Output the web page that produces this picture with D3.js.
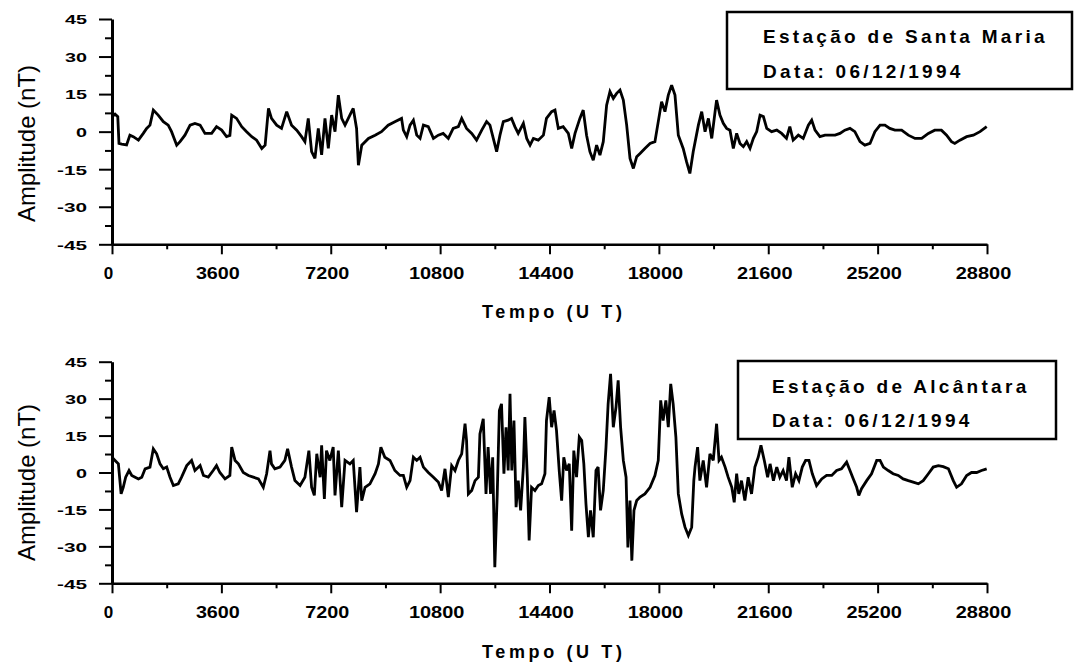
<!DOCTYPE html>
<html>
<head>
<meta charset="utf-8">
<style>
  body { margin: 0; background: #fff; }
  svg text { font-family: "Liberation Sans", Arial, sans-serif; fill: #000; }
  .tick line, .domain { stroke: #000; }
  .trace { fill: none; stroke: #000; stroke-width: 2.8; stroke-linejoin: miter; stroke-miterlimit: 3; }
</style>
<script src="https://cdn.jsdelivr.net/npm/d3@7"></script>
</head>
<body>
<svg id="chart" width="1075" height="663"></svg>
<script>
// time ticks (s, UT) and amplitude ticks (nT)
var xTicks = [0, 3600, 7200, 10800, 14400, 18000, 21600, 25200, 28800];
var xMinor = [1800, 5400, 9000, 12600, 16200, 19800, 23400, 27000];
var yTicks = [-45, -30, -15, 0, 15, 30, 45];
var yMinor = [-37.5, -22.5, -7.5, 7.5, 22.5, 37.5];

var titles = ["Estação de Santa Maria", "Estação de Alcântara"];
var dateLabel = "Data: 06/12/1994";

// [time (s), amplitude (nT)]
var santaMaria = [[0,6],[100,7],[190,6],[230,-4.7],[320,-5],[480,-5.3],[590,-1.4],[700,-2],[870,-3.4],[1030,-0.7],[1140,1.3],[1250,2.6],[1360,8.6],[1520,6.6],[1690,4],[1850,2.6],[1960,0],[2130,-5.4],[2240,-4],[2400,-1.4],[2570,2.6],[2730,3.3],[2900,2.6],[3060,-0.7],[3280,-0.7],[3440,2],[3610,0.6],[3770,-2],[3880,-1.5],[3940,6.6],[4100,5.3],[4270,2],[4430,0],[4600,-2],[4760,-3.4],[4930,-6.7],[5040,-5.4],[5150,9.3],[5250,5.3],[5420,2.6],[5580,1.3],[5750,8],[5910,2.6],[6080,0.6],[6240,-2],[6350,-4],[6460,5.3],[6570,-8],[6680,-10.7],[6790,1.3],[6900,-9.3],[7010,5.3],[7120,-6.7],[7230,6.6],[7340,0],[7450,14.6],[7560,5.3],[7670,2.6],[7830,6.6],[7940,9.3],[8050,1.3],[8110,-13.4],[8220,-5.4],[8440,-2.7],[8660,-1.4],[8870,0],[9090,2.6],[9310,4],[9530,5.3],[9590,0.6],[9700,-2],[9810,2.6],[9920,4.6],[10030,-1.4],[10140,-2.7],[10250,2.6],[10410,2],[10580,-2.7],[10740,-1.4],[10900,-0.7],[11070,-2.7],[11230,1.3],[11400,2],[11510,5.3],[11670,1.3],[11840,-0.7],[12000,-3.4],[12170,0.6],[12330,4],[12440,2.6],[12550,-2.7],[12660,-8],[12770,-1.4],[12880,4],[13040,4.6],[13150,5.3],[13260,2],[13370,-0.7],[13540,3.3],[13650,-2.7],[13760,-5.4],[13870,-2.7],[14030,-3.4],[14200,-1.4],[14300,5.3],[14470,8],[14580,8.6],[14690,1.3],[14850,2],[15020,-0.7],[15130,-6.7],[15240,-0.7],[15400,5.3],[15510,8.6],[15620,-1.4],[15730,-8],[15840,-11.4],[15950,-5.4],[16060,-9.4],[16170,-4],[16280,10.6],[16390,16],[16500,13.3],[16610,15.3],[16720,16.6],[16830,12.6],[16940,2.6],[17050,-10.7],[17160,-14.7],[17270,-10],[17380,-8.7],[17540,-6.7],[17710,-4.7],[17870,-4],[17980,4],[18090,12],[18200,8],[18310,14.6],[18420,18.6],[18530,14.6],[18640,-1.4],[18800,-6.7],[18910,-12],[19020,-16.7],[19130,-8],[19300,2.6],[19410,8],[19520,0],[19630,5.3],[19740,-2.7],[19850,8],[19900,12.6],[20010,6.6],[20120,3.3],[20230,1.3],[20340,0.6],[20450,-6.7],[20560,-0.7],[20670,-4.7],[20780,-6],[20890,-4],[21000,-6.7],[21110,-2.7],[21220,0],[21330,6.6],[21440,6],[21550,1.3],[21710,0],[21880,0.6],[22040,-0.7],[22200,-2.7],[22310,2],[22420,-3.4],[22590,-1.4],[22750,-2.7],[22920,2.6],[23030,4.6],[23140,0.6],[23300,-2],[23470,-1.4],[23630,-1.4],[23800,-1.4],[23960,-0.7],[24120,0.6],[24290,1.3],[24450,0],[24620,-4],[24780,-5.4],[24950,-4.7],[25110,0],[25280,2.6],[25440,2.6],[25600,1.3],[25770,0.6],[25990,0.6],[26210,-1.4],[26430,-2.7],[26650,-2.7],[26870,-0.7],[27080,0.6],[27300,0.6],[27470,-1.4],[27630,-4],[27740,-4.7],[27910,-3.4],[28130,-2],[28350,-1.4],[28570,0],[28790,2]];

var alcantara = [[0,6.2],[100,4.9],[210,3.5],[300,-8.7],[370,-6],[450,-1.9],[560,0.8],[650,-1.2],[760,-1.9],[870,-2.6],[980,-1.9],[1090,1.5],[1250,2.2],[1360,9.6],[1470,7.6],[1580,3.5],[1690,1.5],[1800,2.2],[1910,-1.9],[2020,-5.3],[2180,-4.6],[2290,-1.9],[2460,2.8],[2620,4.9],[2730,0.8],[2900,2.8],[3010,-1.2],[3170,-1.9],[3330,0.8],[3440,2.8],[3550,0],[3720,-2.6],[3880,-1.2],[3940,10.3],[4050,4.9],[4160,3.5],[4320,0],[4490,-1.2],[4650,-1.9],[4820,-2.6],[4980,-6],[5090,-0.5],[5200,8.9],[5250,3.5],[5360,1.5],[5530,2.2],[5690,4.9],[5780,9.6],[5910,2.2],[6020,-3.3],[6190,-5.3],[6350,-1.9],[6480,8.9],[6570,-6],[6660,-9.3],[6740,7.6],[6850,-1.9],[6900,11],[6990,-10.7],[7060,8.9],[7170,4.9],[7280,10.3],[7340,-9.3],[7450,8.9],[7560,-14.1],[7670,4.9],[7830,3.5],[7940,4.9],[8050,-16.1],[8160,2.2],[8220,-11.4],[8330,-6],[8490,-4.6],[8660,-0.5],[8770,3.5],[8850,10.3],[8980,6.2],[9150,4.9],[9310,0.8],[9480,-1.2],[9590,-1.2],[9700,-6],[9810,-3.3],[9920,6.2],[10030,4.9],[10140,6.2],[10250,2.2],[10410,0],[10580,-1.9],[10740,-3.9],[10850,-7.3],[10960,1.5],[11070,-10],[11180,2.8],[11290,0.8],[11400,4.9],[11510,7.6],[11620,19.8],[11670,13],[11730,-8.7],[11840,-7.3],[11950,-3.3],[12060,-1.9],[12110,15.7],[12220,21.8],[12310,-8.7],[12380,10.3],[12460,-8.7],[12530,6.2],[12600,-38.5],[12680,-8.7],[12750,25.2],[12820,27.9],[12900,-0.5],[12970,18.4],[13040,0.8],[13100,32],[13160,0.8],[13230,21.1],[13300,-14.1],[13370,-3.3],[13450,-15.4],[13540,2.2],[13590,22.5],[13670,-2],[13730,-27.6],[13810,-6],[13920,-7.3],[14030,-5.3],[14140,-4.6],[14250,-0.5],[14300,21.1],[14390,30.6],[14470,18.4],[14550,25.2],[14630,17.1],[14720,0.8],[14800,-11.4],[14870,6.2],[14960,0.8],[15050,3.5],[15130,-23.6],[15200,8.9],[15290,-1.9],[15380,14.4],[15460,13],[15530,3.5],[15600,-12.7],[15680,-26.3],[15750,-15.4],[15840,-26.3],[15930,0.8],[16000,2.2],[16080,-15.4],[16170,-7.3],[16260,10.3],[16330,27.9],[16410,40.1],[16500,18.4],[16590,26.6],[16660,37.4],[16740,18.4],[16830,4.9],[16920,-1.9],[16980,-30.4],[17050,-11.4],[17110,-35.8],[17180,-15.4],[17270,-11.4],[17380,-10],[17540,-8.7],[17710,-6],[17870,-1.2],[17980,4.9],[18060,29.3],[18140,21.1],[18230,29.3],[18310,18.4],[18390,36],[18470,27.9],[18560,14.4],[18640,-8.7],[18750,-16.8],[18860,-22.2],[18970,-25.6],[19080,-22.2],[19150,-3.3],[19190,2.2],[19275,10.3],[19350,-3.3],[19460,4.9],[19570,-6],[19680,7.6],[19790,4.9],[19900,19.8],[19980,4.9],[20060,6.2],[20180,2.2],[20280,-1.9],[20400,-6],[20480,-12.1],[20560,-0.5],[20630,-8.7],[20720,-3.3],[20830,-11.4],[20940,-1.9],[21050,-8.7],[21160,2.2],[21270,6.2],[21360,11],[21470,4.9],[21580,-1.9],[21660,3.5],[21770,-3.3],[21880,2.2],[21980,-1.9],[22090,0.8],[22200,-3.3],[22280,6.2],[22390,-6],[22500,-0.5],[22610,-3.3],[22720,2.2],[22830,4.9],[22940,4.9],[23050,-0.5],[23190,-5.3],[23360,-2.6],[23520,-1.2],[23690,-1.2],[23850,0.8],[24010,1.5],[24180,4.2],[24290,0.8],[24400,-2.6],[24510,-6],[24580,-9.3],[24670,-6.6],[24840,-3.3],[25000,-0.5],[25170,4.9],[25280,4.9],[25390,2.2],[25550,0.8],[25710,-0.5],[25880,-1.2],[26040,-2.6],[26210,-3.3],[26370,-3.9],[26540,-4.6],[26700,-3.3],[26870,-0.5],[27030,2.2],[27200,2.8],[27360,2.4],[27530,1.5],[27690,-3.3],[27800,-6],[27960,-4.6],[28130,-1.2],[28290,0],[28460,0],[28620,0.8],[28790,1.5]];

var svg = d3.select("#chart");
svg.append("rect").attr("width", 1075).attr("height", 663).attr("fill", "#fff");

var x = d3.scaleLinear().domain([0, 28800]).range([112, 987]);
var plain = function(d) { return String(d); };

// panel layout: vertical extent of each plot, legend box, label positions
var panels = [
  { data: santaMaria, title: titles[0], top: 19, bottom: 244.3, ylabY: 143.5,
    box: [727, 12, 345, 77], tx: 763, ty: [43, 78], tempoY: 318 },
  { data: alcantara, title: titles[1], top: 361.7, bottom: 583.3, ylabY: 482.5,
    box: [738, 361, 318, 78], tx: 772, ty: [393, 427], tempoY: 658 }
];

panels.forEach(function(p) {
  var y = d3.scaleLinear().domain([-45, 45]).range([p.bottom, p.top]);
  var g = svg.append("g");

  // minor ticks first
  g.append("g").attr("transform", "translate(112,0)")
    .call(d3.axisLeft(y).tickValues(yMinor).tickSize(7).tickFormat(""))
    .call(function(s) { s.select(".domain").remove(); s.selectAll("line").attr("stroke-width", 2); });
  g.append("g").attr("transform", "translate(0," + p.bottom + ")")
    .call(d3.axisBottom(x).tickValues(xMinor).tickSize(5).tickFormat(""))
    .call(function(s) { s.select(".domain").remove(); s.selectAll("line").attr("stroke-width", 2); });

  var ya = g.append("g").attr("transform", "translate(112,0)")
    .call(d3.axisLeft(y).tickValues(yTicks).tickSize(13).tickSizeOuter(0).tickPadding(12).tickFormat(plain));
  ya.select(".domain").attr("stroke-width", 3);
  ya.selectAll("line").attr("stroke-width", 2);
  ya.selectAll("text")
    .attr("font-size", 13.5).attr("font-weight", "bold").attr("dy", "0.36em")
    .attr("textLength", function(d) { return String(d).length * 11 + (d < 0 ? -3 : 0); })
    .attr("lengthAdjust", "spacingAndGlyphs");

  var xa = g.append("g").attr("transform", "translate(0," + p.bottom + ")")
    .call(d3.axisBottom(x).tickValues(xTicks).tickSize(10).tickSizeOuter(0).tickPadding(0).tickFormat(plain));
  xa.select(".domain").attr("stroke-width", 2.5);
  xa.selectAll("line").attr("stroke-width", 2);
  xa.selectAll("text").attr("font-size", 17).attr("font-weight", "bold")
    .attr("y", 35).attr("dy", 0).attr("dx", -4)
    .attr("textLength", function(d) { return String(d).length * 11.5 - 2; })
    .attr("lengthAdjust", "spacingAndGlyphs");
  svg.selectAll(".tick text").attr("fill", "#000");

  // y title
  g.append("text")
    .attr("transform", "translate(34.5," + p.ylabY + ") rotate(-90)")
    .attr("text-anchor", "middle").attr("font-size", 24)
    .attr("textLength", 157).attr("lengthAdjust", "spacingAndGlyphs")
    .text("Amplitude (nT)");

  // x title
  g.append("text").attr("x", 552).attr("y", p.tempoY)
    .attr("text-anchor", "middle").attr("font-size", 18).attr("font-weight", "bold")
    .attr("textLength", 140).attr("lengthAdjust", "spacing")
    .text("Tempo (U T)");

  // trace
  var line = d3.line().x(function(d) { return x(d[0]); }).y(function(d) { return y(d[1]); });
  g.append("path").datum(p.data).attr("class", "trace").attr("d", line);

  // legend box
  g.append("rect").attr("x", p.box[0]).attr("y", p.box[1]).attr("width", p.box[2]).attr("height", p.box[3])
    .attr("fill", "#fff").attr("stroke", "#000").attr("stroke-width", 2.5);
  g.append("text").attr("x", p.tx).attr("y", p.ty[0]).attr("font-size", 19).attr("font-weight", "bold")
    .attr("letter-spacing", 3.3).text(p.title);
  g.append("text").attr("x", p.tx).attr("y", p.ty[1]).attr("font-size", 19).attr("font-weight", "bold")
    .attr("letter-spacing", 3.3).text(dateLabel);
});
</script>
</body>
</html>
